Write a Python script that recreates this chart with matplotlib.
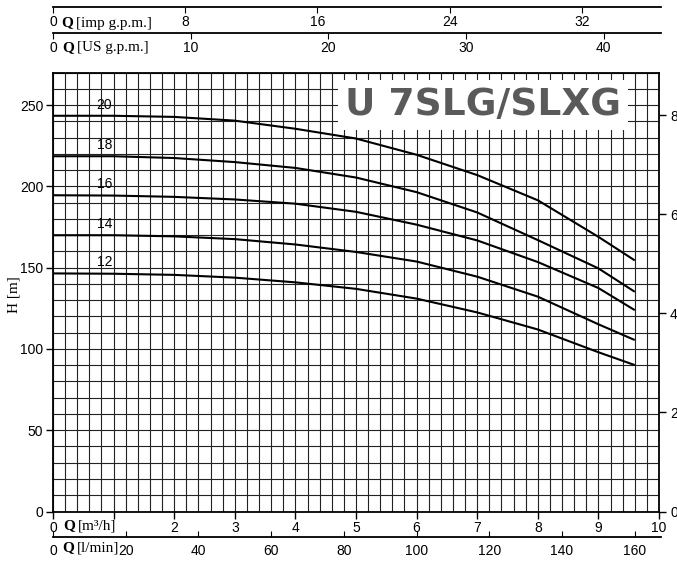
import matplotlib
matplotlib.use("Agg")
import matplotlib.pyplot as plt
import numpy as np

# =================================
# DATA
# =================================

q_m3h = [0, 1, 2, 3, 4, 5, 6, 7, 8, 9, 9.6]

h_20 = [243.5, 243.5, 242.8, 240.5, 235.5, 229.5, 219.5, 207.0, 191.5, 169.0, 154.5]
h_18 = [218.6, 218.6, 217.5, 215.0, 211.4, 205.5, 196.5, 184.0, 167.0, 149.6, 135.2]
h_16 = [194.6, 194.4, 193.6, 192.0, 189.4, 184.4, 176.5, 166.8, 153.5, 137.5, 123.9]
h_14 = [170.0, 170.0, 169.3, 167.6, 164.3, 159.7, 153.8, 144.5, 132.2, 115.2, 105.5]
h_12 = [146.5, 146.3, 145.6, 143.9, 141.0, 137.0, 131.0, 122.5, 112.0, 98.0, 90.1]

stages = ["20", "18", "16", "14", "12"]
curves = [h_20, h_18, h_16, h_14, h_12]

m3h_ticks = [2, 3, 4, 5, 6, 7, 8, 9, 10]
lmin_ticks = [20, 40, 60, 80, 100, 120, 140, 160]
usgpm_ticks = [10, 20, 30, 40]
impgpm_ticks = [8, 16, 24, 32]
ft_ticks = [0, 2, 4, 6, 8]

# conversion factors
LMIN = 16.667     # l/min per m3/h
USGPM = 4.403     # US gpm per m3/h
IMPGPM = 3.666    # imp gpm per m3/h
FT100 = 30.48     # m per 100 ft

W, H = 677, 564
sans = "Liberation Sans"
serif = "Liberation Serif"

fig = plt.figure(figsize=(W / 100, H / 100), dpi=100)

left = 53 / W
width = 606 / W
bottom = (H - 511.5) / H
height = (511.5 - 72.7) / H

# =================================
# MAIN CHART
# =================================

ax = fig.add_axes([left, bottom, width, height])
ax.set_xlim(0, 10)
ax.set_ylim(0, 270)

ax.set_xticks(range(0, 11))
ax.set_xticks(np.arange(0, 10.01, 0.2), minor=True)
ax.set_yticks(range(0, 251, 50))
ax.set_yticks(range(0, 271, 10), minor=True)
ax.grid(which="both", color="#222222", linewidth=0.8)
ax.set_axisbelow(True)

ax.tick_params(which="minor", length=0)
ax.tick_params(which="major", direction="out", length=5, width=1, labelsize=10, pad=2)
ax.set_xticklabels(["0", ""] + [str(t) for t in m3h_ticks], fontfamily=sans)
ax.set_yticklabels([str(t) for t in range(0, 251, 50)], fontfamily=sans)
for s in ax.spines.values():
    s.set_linewidth(1.3)

for name, h in zip(stages, curves):
    ax.plot(q_m3h, h, color="black", linewidth=1.5, solid_capstyle="butt")
    ax.text(0.85, h[0] + 2.5, name, ha="center", va="bottom", fontsize=10,
            fontfamily=sans)

fig.text(14 / W, 1 - 295 / H, "H [m]", rotation=90, fontfamily=serif,
         fontsize=11, ha="center", va="center")

# right axis (feet x 100)
ax2 = ax.twinx()
ax2.set_ylim(0, 270 / FT100)
ax2.set_yticks(ft_ticks)
ax2.set_yticklabels([str(t) for t in ft_ticks], fontfamily=sans)
ax2.tick_params(direction="out", length=5, width=1, labelsize=10, pad=3)
for s in ax2.spines.values():
    s.set_visible(False)

# title box
ax2.text(0.482, 0.927, "U 7SLG/SLXG", transform=ax.transAxes, ha="left", va="center",
         fontsize=27, fontweight="bold", fontfamily="DejaVu Sans", color="#5a5a5a",
         bbox=dict(facecolor="white", edgecolor="none", pad=5), zorder=10)

# =================================
# EXTRA FLOW SCALES
# =================================

def flow_axis(y_px, factor, ticks, ticks_down):
    a = fig.add_axes([left, (H - y_px) / H, 608 / W, 0])
    a.set_xlim(0, 10 * factor * 608 / 606)
    a.set_yticks([])
    a.set_xticks([0] + ticks)
    a.set_xticklabels(["0"] + [str(t) for t in ticks], fontfamily=sans)
    for s in a.spines.values():
        s.set_visible(False)
    if ticks_down:
        a.spines["top"].set_visible(True)
        a.spines["top"].set_linewidth(1.3)
        a.tick_params(axis="x", top=True, bottom=False, direction="in", length=4,
                      labelbottom=True, labeltop=False, labelsize=10, pad=6)
    else:
        a.spines["bottom"].set_visible(True)
        a.spines["bottom"].set_linewidth(1.3)
        a.tick_params(axis="x", bottom=True, direction="in", length=4,
                      labelsize=10, pad=5)
    a.patch.set_visible(False)
    return a

flow_axis(6.7, IMPGPM, impgpm_ticks, True)
flow_axis(32.7, USGPM, usgpm_ticks, True)
flow_axis(537.3, LMIN, lmin_ticks, False)

# axis names
def q_label(x_px, y_px, unit):
    fig.text(x_px / W, 1 - y_px / H, "Q", fontfamily=serif, fontweight="bold",
             fontsize=11, ha="left", va="center")
    fig.text((x_px + 15) / W, 1 - y_px / H, unit, fontfamily=serif,
             fontsize=11, ha="left", va="center")

q_label(61, 23, "[imp g.p.m.]")
q_label(62, 48, "[US g.p.m.]")
q_label(63, 526, "[m³/h]")
q_label(62, 548, "[l/min]")

fig.savefig("out.png", dpi=100)
